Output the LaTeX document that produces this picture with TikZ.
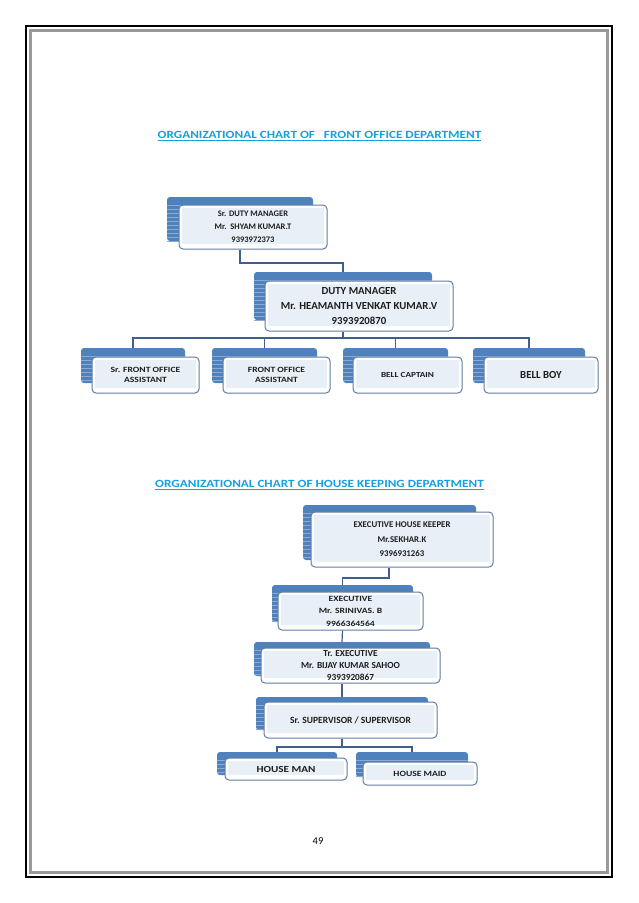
\documentclass[tikz,border=0pt]{standalone}
\usepackage{fontspec}
\setmainfont{Carlito}
\newfontfamily\wide[FakeStretch=1.2]{Carlito}
\usetikzlibrary{fit}
\definecolor{titleblue}{RGB}{20,160,225}
\definecolor{backblue}{RGB}{79,129,189}
\definecolor{stripeblue}{RGB}{140,170,210}
\definecolor{frontedge}{RGB}{95,125,165}
\definecolor{innerfill}{RGB}{233,239,247}
\definecolor{connect}{RGB}{65,95,140}
\definecolor{boxtext}{RGB}{30,30,30}
\tikzset{
  backbox/.style={fill=backblue, draw=none, rounded corners=3pt, inner sep=0pt},
  frontbox/.style={fill=white, draw=frontedge, line width=1pt, rounded corners=4pt, inner sep=0pt},
  stripe/.style={draw=stripeblue, line width=0.6pt},
  boxlabel/.style={align=center, text=boxtext, inner sep=0pt},
  conn/.style={draw=connect, line width=1.2pt},
  charttitle/.style={text=titleblue, font=\wide\bfseries\fontsize{11}{13}\selectfont, inner sep=0pt},
}
% name, blue corner 1, blue corner 2, front corner 1, front corner 2, text, font
\newcommand\orgbox[7]{%
  \node[backbox, fit={(#2)(#3)}] (#1b) {};
  \begin{scope}
    \clip (#1b.south west) rectangle (#1b.north east);
    \foreach \k in {2,...,14} {
      \draw[stripe] ([yshift=-\k*4pt]#1b.north west) -- ([yshift=-\k*4pt]#1b.north east);
    }
  \end{scope}
  \node[frontbox, fit={(#4)(#5)}] (#1f) {};
  \fill[innerfill] ([xshift=3pt,yshift=-3pt]#1f.north west) rectangle ([xshift=-4pt,yshift=6pt]#1f.south east);
  \node[boxlabel, font={#7\bfseries}] (#1) at (#1f.center) {#6};
}
\begin{document}
\begin{tikzpicture}[x=1pt,y=-1pt]
\useasboundingbox (0,0) rectangle (638,903);
\fill[white] (0,0) rectangle (638,903);
% page border
\draw[black, line width=2pt] (26,26) rectangle (612,877);
\draw[gray!80, line width=2.5pt] (30.5,30.5) rectangle (607.5,872.5);

% titles
\node[charttitle] (t1) at (319.5,136) {\underline{ORGANIZATIONAL CHART OF \ \ FRONT OFFICE DEPARTMENT}};
\node[charttitle] (t2) at (319.5,485) {\underline{ORGANIZATIONAL CHART OF HOUSE KEEPING DEPARTMENT}};

% front office
\orgbox{dmA}{167,197}{313,241}{179,205}{327,249}{Sr. DUTY MANAGER\\Mr.\ \ SHYAM KUMAR.T\\9393972373}{\fontsize{8.5}{13}\selectfont}
\orgbox{dmB}{254,272}{432,320}{265,281}{453,331}{DUTY MANAGER\\Mr. HEAMANTH VENKAT KUMAR.V\\9393920870}{\fontsize{10.8}{15}\selectfont}
\orgbox{foA}{81,348}{185,383}{92,357}{199,393}{Sr. FRONT OFFICE\\ASSISTANT}{\wide\fontsize{8}{9.5}\selectfont}
\orgbox{foB}{212,348}{317,383}{223,357}{330,393}{FRONT OFFICE\\ASSISTANT}{\wide\fontsize{8}{9.5}\selectfont}
\orgbox{foC}{343,348}{448,383}{353,357}{462,393}{BELL CAPTAIN}{\wide\fontsize{7.7}{9.5}\selectfont}
\orgbox{foD}{473,348}{585,383}{484,357}{598,393}{BELL BOY}{\fontsize{10.8}{12}\selectfont}

\coordinate (j1) at (240,263);
\coordinate (j2) at (343,338);
\draw[conn] (dmAb.center |- dmAf.south) -- (j1) -| (dmBb.north);
\draw[conn] (dmBb.center |- dmBf.south) -- (j2);
\draw[conn] (foAb.north) |- (j2) -| (foDb.north);
\draw[conn] (foBb.north) -- (foBb.north |- j2);
\draw[conn] (foCb.north) -- (foCb.north |- j2);

% housekeeping
\orgbox{hkA}{303,505}{476,560}{311,512}{493,567}{EXECUTIVE HOUSE KEEPER\\Mr.SEKHAR.K\\9396931263}{\fontsize{8.8}{14.5}\selectfont}
\orgbox{hkB}{272,585}{413,622}{278,592}{423,630}{EXECUTIVE\\Mr. SRINIVAS. B\\9966364564}{\wide\fontsize{8}{12.5}\selectfont}
\orgbox{hkC}{254,642}{430,676}{261,648}{440,683}{Tr. EXECUTIVE\\Mr. BIJAY KUMAR SAHOO\\9393920867}{\fontsize{9.3}{12}\selectfont}
\orgbox{hkD}{256,697}{428,730}{264,702}{437,738}{Sr. SUPERVISOR / SUPERVISOR}{\fontsize{9.5}{11}\selectfont}
\orgbox{hkE}{217,752}{337,775}{225,758}{347,780}{HOUSE MAN}{\wide\fontsize{9.3}{10}\selectfont}
\orgbox{hkF}{356,752}{468,777}{363,762}{477,785}{HOUSE MAID}{\wide\fontsize{8}{10}\selectfont}

\coordinate (j3) at (389,578);
\coordinate (j4) at (342,747);
\draw[conn] (j3 |- hkAf.south) -- (j3) -| (hkBb.north);
\draw[conn] (hkBb.center |- hkBf.south) -- (hkCb.north);
\draw[conn] (hkCb.center |- hkCf.south) -- (hkDb.north);
\draw[conn] (hkDb.center |- hkDf.south) -- (j4);
\draw[conn] (hkEb.north) |- (j4) -| (hkFb.north);

% page number
\node[font=\fontsize{10.5}{12}\selectfont, inner sep=0pt] (pg) at (318,841) {49};
\end{tikzpicture}
\end{document}
